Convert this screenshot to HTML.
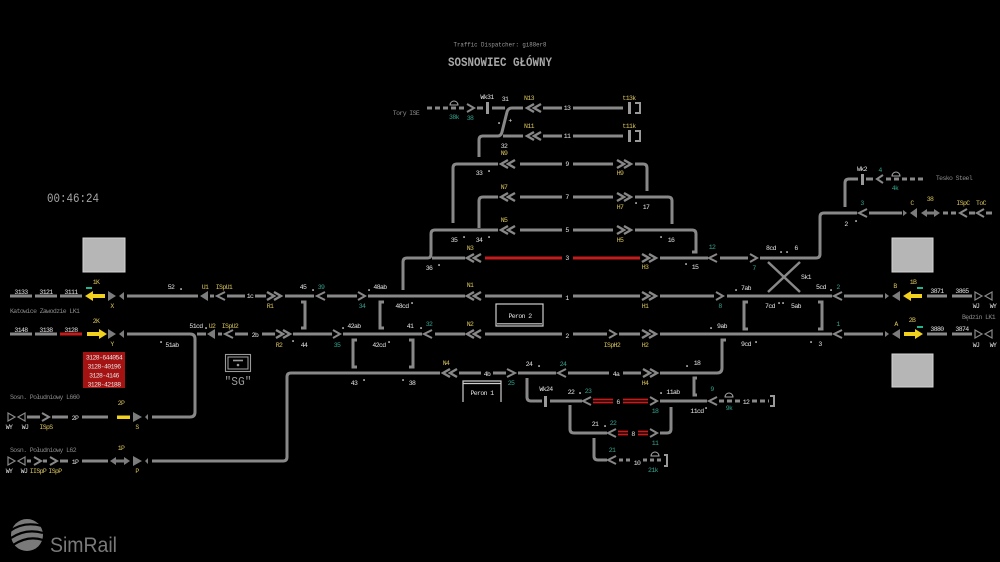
<!DOCTYPE html>
<html><head><meta charset="utf-8">
<style>
html,body{margin:0;padding:0;background:#000;}
svg{display:block}
text{font-family:"Liberation Mono",monospace;font-size:6.5px;letter-spacing:-0.6px;text-anchor:middle}
.w{fill:#e4e4e4}.y{fill:#d9c45c}.t{fill:#34a38f}.g{fill:#8a8a8a}
.l{text-anchor:start}.r{text-anchor:end}
.tr{stroke:#888;stroke-width:3;fill:none}
.ch{stroke:#888;stroke-width:2;fill:none}
.dc{stroke:#888;stroke-width:2.4;fill:none}
.da{stroke:#888;stroke-width:3;fill:none;stroke-dasharray:5 3}
.sg{fill:#7c7c7c}
.dot{fill:#e4e4e4}
</style></head><body>
<svg width="1000" height="562" viewBox="0 0 1000 562" xmlns="http://www.w3.org/2000/svg">
<rect width="1000" height="562" fill="#000"/>

<!-- Titles -->
<text x="500" y="46.5" fill="#9a9a9a" style="font-size:6.3px;letter-spacing:0" textLength="93" lengthAdjust="spacingAndGlyphs">Traffic Dispatcher: gi88er8</text>
<text x="500" y="66" fill="#a6a6a6" style="font-size:12.5px;font-weight:bold;letter-spacing:0" textLength="104" lengthAdjust="spacingAndGlyphs">SOSNOWIEC GŁÓWNY</text>
<text x="73" y="202" fill="#a6a6a6" style="font-size:13px;letter-spacing:0" textLength="52" lengthAdjust="spacingAndGlyphs">00:46:24</text>

<!-- Gray squares -->
<rect x="83" y="238" width="42" height="34" fill="#b6b6b6" stroke="#d4d4d4" stroke-width="1"/>
<rect x="892" y="238" width="41" height="34" fill="#b6b6b6" stroke="#d4d4d4" stroke-width="1"/>
<rect x="892" y="354" width="41" height="33" fill="#b6b6b6" stroke="#d4d4d4" stroke-width="1"/>

<!-- Red info box -->
<rect x="83" y="352" width="42" height="36" fill="#a51212"/>
<text x="104" y="359.5" class="w">3128-644054</text>
<text x="104" y="368.5" class="w">3128-40196</text>
<text x="104" y="377.5" class="w">3128-4146</text>
<text x="104" y="386.5" class="w">3128-42188</text>

<!-- TRACKS -->
<g class="tr">
<path d="M10 296H32M35 296H57M60 296H82"/>
<path d="M127 296H198M210 296H214M227 296H245M255 296H266M285 296H314M327 296H357M368 296H465"/>
<path d="M10 334H32M35 334H57"/>
<path d="M127 334H190Q195 334 195 339V412Q195 417 190 417H152"/>
<path d="M197 334H206M218 334H222M235 334H248M262 334H275M293 334H332M343 334H422M435 334H465"/>
<path d="M301 302H305V328H301"/>
<path d="M384 302H380V328H384"/>
<path d="M357 340H353V367H357"/>
<path d="M409 340H413V367H409"/>
<path d="M403 290V262Q403 258 407 258H428Q431 258 431 254V234Q431 230 435 230H498"/>
<path d="M432 258H465"/>
<path d="M520 230H562M573 230H613"/>
<path d="M635 230H692Q696 230 696 234V252H692"/>
<path d="M453 223V168Q453 164 457 164H498M520 164H562M573 164H613M635 164H643Q647 164 647 168V191"/>
<path d="M479 228V201Q479 197 483 197H498M520 197H562M573 197H613M635 197H668Q672 197 672 201V224"/>
<path d="M479 157V140Q479 136 483 136H498Q501 136 502 132L507 112Q508 108 512 108H523"/>
<path d="M492 108H505"/>
<path d="M503 136H523M543 136H562M573 136H623"/>
<path d="M543 108H562M573 108H623"/>
<path d="M660 258H708M720 258H748M760 258H816Q820 258 820 254V217Q820 213 824 213H857M869 213H902"/>
<path d="M485 296H562M573 296H640M660 296H714M727 296H832M844 296H883"/>
<path d="M485 334H562M573 334H607M619 334H640M660 334H832M844 334H883"/>
<path d="M927 296H947M952 296H972M927 334H947M952 334H972"/>
<path d="M748 302H744V329H748"/>
<path d="M818 302H822V329H818"/>
<path d="M152 461H283Q287 461 287 457V377Q287 373 291 373H440"/>
<path d="M459 373H481M493 373H506M518 373H556M568 373H609M623 373H641"/>
<path d="M660 373H717Q722 373 722 368V340H726"/>
<path d="M527 378V397Q527 401 531 401H542"/>
<path d="M550 401H582M660 401H707"/>
<path d="M697 378H694V395H697"/>
<path d="M570 405V429Q570 433 574 433H607"/>
<path d="M660 433H667Q671 433 671 429V407"/>
<path d="M594 438V456Q594 460 598 460H607"/>
<path d="M27 417H40M52 417H68M82 417H108"/>
<path d="M27 461H31M43 461H47M60 461H68M82 461H108"/>
<path d="M845 207V183Q845 179 849 179H858"/>
<path d="M866 179H873M969 213H975M986 213H992"/>
<path d="M477 108H483"/>
</g>

<g class="da">
<path d="M427 108H466"/>
<path d="M886 179H925"/>
<path d="M943 213H958"/>
<path d="M719 401H740M752 401H769"/>
<path d="M619 460H630M643 460H662" style="stroke-dasharray:4 3"/>
</g>

<path d="M485 258H562M573 258H640M60 334H82" stroke="#c41c1c" stroke-width="3" fill="none"/>
<path d="M593 399.5H613M593 402.5H613M623 399.5H648M623 402.5H648M618 431.5H628M618 434.5H628M638 431.5H648M638 434.5H648" stroke="#c41c1c" stroke-width="1.8" fill="none"/>

<path d="M768 262L800 292M800 262L768 292" stroke="#888" stroke-width="2.5" fill="none"/>

<g class="dc">
<path d="M474 292L467 296L474 300M481 292L474 296L481 300"/>
<path d="M474 330L467 334L474 338M481 330L474 334L481 338"/>
<path d="M474 254L467 258L474 262M481 254L474 258L481 262"/>
<path d="M508 226L501 230L508 234M515 226L508 230L515 234"/>
<path d="M508 193L501 197L508 201M515 193L508 197L515 201"/>
<path d="M508 160L501 164L508 168M515 160L508 164L515 168"/>
<path d="M534 132L527 136L534 140M541 132L534 136L541 140"/>
<path d="M534 104L527 108L534 112M541 104L534 108L541 112"/>
<path d="M450 369L443 373L450 377M457 369L450 373L457 377"/>
<path d="M267 292L274 296L267 300M274 292L281 296L274 300"/>
<path d="M276 330L283 334L276 338M283 330L290 334L283 338"/>
<path d="M617 160L624 164L617 168M624 160L631 164L624 168"/>
<path d="M617 193L624 197L617 201M624 193L631 197L624 201"/>
<path d="M617 226L624 230L617 234M624 226L631 230L624 234"/>
<path d="M642 254L649 258L642 262M649 254L656 258L649 262"/>
<path d="M642 292L649 296L642 300M649 292L656 296L649 300"/>
<path d="M642 330L649 334L642 338M649 330L656 334L649 338"/>
<path d="M643 369L650 373L643 377M650 369L657 373L650 377"/>
</g>

<g class="ch">
<path d="M325 292L317 296L325 300"/>
<path d="M432 330L424 334L432 338"/>
<path d="M225 292L217 296L225 300"/>
<path d="M233 330L225 334L233 338"/>
<path d="M842 292L834 296L842 300"/>
<path d="M842 330L834 334L842 338"/>
<path d="M717 254L709 258L717 262"/>
<path d="M867 209L859 213L867 217"/>
<path d="M591 397L583 401L591 405"/>
<path d="M616 429L608 433L616 437"/>
<path d="M616 456L608 460L616 464"/>
<path d="M566 369L558 373L566 377"/>
<path d="M717 397L709 401L717 405"/>
<path d="M883 175L877 179L883 183"/>
<path d="M967 209L960 213L967 217"/>
<path d="M984 209L977 213L984 217"/>
<path d="M358 292L365 296L358 300"/>
<path d="M333 330L340 334L333 338"/>
<path d="M467 104L474 108L467 112"/>
<path d="M716 292L723 296L716 300"/>
<path d="M750 254L757 258L750 262"/>
<path d="M609 330L616 334L609 338"/>
<path d="M507 369L515 373L507 377"/>
<path d="M650 397L657 401L650 405"/>
<path d="M650 429L657 433L650 437"/>
<path d="M42 413L49 417L42 421"/>
<path d="M34 457L41 461L34 465"/>
<path d="M50 457L57 461L50 465"/>
</g>

<g fill="none" stroke="#888" stroke-width="1.2">
<path d="M975 292L982 296L975 300Z M992 292L985 296L992 300Z"/>
<path d="M975 330L982 334L975 338Z M992 330L985 334L992 338Z"/>
<path d="M8 413L15 417L8 421Z M25 413L18 417L25 421Z"/>
<path d="M8 457L15 461L8 465Z M25 457L18 461L25 465Z"/>
</g>

<g class="sg">
<path d="M108 291L116 296L108 301Z M124 292L119 296L124 300Z"/>
<path d="M108 329L116 334L108 339Z M124 330L119 334L124 338Z"/>
<path d="M208 291L200 296L208 301Z"/>
<path d="M215 329L207 334L215 339Z"/>
<path d="M133 412L142 417L133 422Z M148 414L145 417L148 420Z"/>
<path d="M133 456L142 461L133 466Z M148 458L145 461L148 464Z"/>
<path d="M885 293L889 296L885 299Z M900 291L892 296L900 301Z"/>
<path d="M885 331L889 334L885 337Z M900 329L892 334L900 339Z"/>
<path d="M903 210L907 213L903 216Z M917 208L910 213L917 218Z"/>
<path d="M110 461L116 457V459.5H124V457L130 461L124 465V462.5H116V465Z"/>
<path d="M921 213L927 209V211.5H934V209L940 213L934 217V214.5H927V217Z"/>
</g>

<g fill="#f2d01e">
<path d="M85 296L93 291V294H105V298H93V301Z"/>
<path d="M107 334L99 329V332H87V336H99V339Z"/>
<path d="M903 296L911 291V294H922V298H911V301Z"/>
<path d="M923 334L915 329V332H904V336H915V339Z"/>
<rect x="117" y="415.5" width="13" height="3.5"/>
</g>
<g fill="#1fb58f">
<rect x="86" y="287" width="6" height="2"/>
<rect x="917" y="287" width="6" height="2"/>
<rect x="917" y="326" width="6" height="2"/>
</g>

<g fill="#999">
<rect x="486" y="102" width="3" height="12"/>
<rect x="628" y="102" width="3" height="12"/>
<rect x="628" y="130" width="3" height="12"/>
<rect x="861" y="174" width="3" height="11"/>
<rect x="544" y="396" width="3" height="11"/>
</g>
<g fill="none" stroke="#999" stroke-width="2">
<path d="M635 103H640V113H635"/>
<path d="M635 131H640V141H635"/>
<path d="M770 396H774V406H770"/>
<path d="M664 455H667V466H664"/>
</g>
<g fill="none" stroke="#aaa" stroke-width="1">
<path d="M450 105A4 4 0 0 1 458 105Z"/>
<path d="M892 176A4 4 0 0 1 900 176Z"/>
<path d="M725 397A4 4 0 0 1 733 397Z"/>
<path d="M651 456A4 4 0 0 1 659 456Z"/>
</g>

<g fill="none" stroke="#cfcfcf" stroke-width="1.2">
<rect x="496" y="304" width="47" height="22"/>
<path d="M497 323.8H542"/>
<path d="M463 402V381H501V402M463 383.5H501"/>
</g>
<text x="520" y="318" class="w">Peron 2</text>
<text x="482" y="395" class="w">Peron 1</text>

<g fill="none" stroke="#9a9a9a" stroke-width="1.1">
<rect x="225.5" y="354.5" width="25" height="17"/>
<rect x="228" y="357" width="20" height="12"/>
<path d="M233 360.5H243" stroke-width="1.6"/>
</g>
<circle cx="238" cy="365" r="1.3" fill="#9a9a9a"/>
<text x="238" y="385" fill="#9a9a9a" style="font-size:12px;letter-spacing:0" textLength="27" lengthAdjust="spacingAndGlyphs">"SG"</text>

<g class="dot">
<rect x="180.3" y="288.3" width="1.5" height="1.5"/><rect x="312.3" y="289.3" width="1.5" height="1.5"/>
<rect x="368.3" y="289.3" width="1.5" height="1.5"/><rect x="411.3" y="302.3" width="1.5" height="1.5"/>
<rect x="205.3" y="327.3" width="1.5" height="1.5"/><rect x="160.3" y="341.3" width="1.5" height="1.5"/>
<rect x="292.3" y="340.3" width="1.5" height="1.5"/><rect x="342.3" y="327.3" width="1.5" height="1.5"/>
<rect x="388.3" y="341.3" width="1.5" height="1.5"/><rect x="420.3" y="327.3" width="1.5" height="1.5"/>
<rect x="438.3" y="264.3" width="1.5" height="1.5"/><rect x="463.3" y="236.3" width="1.5" height="1.5"/>
<rect x="488.3" y="236.3" width="1.5" height="1.5"/><rect x="488.3" y="170.3" width="1.5" height="1.5"/>
<rect x="498.3" y="122.3" width="1.5" height="1.5"/><rect x="660.3" y="236.3" width="1.5" height="1.5"/>
<rect x="635.3" y="202.3" width="1.5" height="1.5"/><rect x="685.3" y="263.3" width="1.5" height="1.5"/>
<rect x="780.3" y="251.3" width="1.5" height="1.5"/><rect x="786.3" y="251.3" width="1.5" height="1.5"/>
<rect x="735.3" y="289.3" width="1.5" height="1.5"/><rect x="830.3" y="289.3" width="1.5" height="1.5"/>
<rect x="778.3" y="302.3" width="1.5" height="1.5"/><rect x="782.3" y="302.3" width="1.5" height="1.5"/>
<rect x="710.3" y="327.3" width="1.5" height="1.5"/><rect x="755.3" y="341.3" width="1.5" height="1.5"/>
<rect x="810.3" y="341.3" width="1.5" height="1.5"/><rect x="855.3" y="220.3" width="1.5" height="1.5"/>
<rect x="363.3" y="379.3" width="1.5" height="1.5"/><rect x="402.3" y="379.3" width="1.5" height="1.5"/>
<rect x="538.3" y="365.3" width="1.5" height="1.5"/><rect x="686.3" y="365.3" width="1.5" height="1.5"/>
<rect x="579.3" y="392.3" width="1.5" height="1.5"/><rect x="660.3" y="392.3" width="1.5" height="1.5"/>
<rect x="705.3" y="407.3" width="1.5" height="1.5"/><rect x="604.3" y="425.3" width="1.5" height="1.5"/>
</g>
<text x="510" y="122.5" class="w">+</text>

<g class="w">
<text x="21" y="294">3133</text><text x="46" y="294">3121</text><text x="71" y="294">3111</text>
<text x="21" y="332">3148</text><text x="46" y="332">3138</text><text x="71" y="332">3128</text>
<text x="171" y="289">52</text>
<text x="250" y="298">1c</text>
<text x="303" y="289">45</text>
<text x="380" y="289">48ab</text>
<text x="402" y="308">48cd</text>
<text x="196" y="328">51cd</text>
<text x="255" y="337">2b</text>
<text x="304" y="347">44</text>
<text x="354" y="328">42ab</text>
<text x="379" y="347">42cd</text>
<text x="410" y="328">41</text>
<text x="172" y="347">51ab</text>
<text x="429" y="270">36</text>
<text x="454" y="242">35</text>
<text x="479" y="242">34</text>
<text x="479" y="175">33</text>
<text x="504" y="148">32</text>
<text x="505" y="101">31</text>
<text x="487" y="99">Wk31</text>
<text x="567" y="110">13</text><text x="567" y="138">11</text><text x="567" y="166">9</text>
<text x="567" y="199">7</text><text x="567" y="232">5</text><text x="567" y="260">3</text>
<text x="567" y="300">1</text><text x="567" y="338">2</text>
<text x="646" y="209">17</text><text x="671" y="242">16</text><text x="695" y="269">15</text>
<text x="771" y="250">8cd</text><text x="796" y="250">6</text>
<text x="746" y="290">7ab</text><text x="821" y="289">5cd</text>
<text x="770" y="308">7cd</text><text x="796" y="308">5ab</text>
<text x="722" y="328">9ab</text><text x="746" y="346">9cd</text><text x="820" y="346">3</text>
<text x="806" y="279">Sk1</text>
<text x="846" y="226">2</text>
<text x="862" y="171">Wk2</text>
<text x="937" y="293">3871</text><text x="962" y="293">3865</text>
<text x="937" y="331">3880</text><text x="962" y="331">3874</text>
<text x="976" y="308">WJ</text><text x="993" y="308">WY</text>
<text x="976" y="347">WJ</text><text x="993" y="347">WY</text>
<text x="354" y="385">43</text><text x="412" y="385">38</text>
<text x="487" y="376">4b</text><text x="529" y="366">24</text><text x="616" y="376">4a</text><text x="697" y="365">18</text>
<text x="546" y="391">Wk24</text><text x="571" y="394">22</text><text x="618" y="404">6</text>
<text x="673" y="394">11ab</text><text x="697" y="413">11cd</text><text x="746" y="404">12</text>
<text x="595" y="426">21</text><text x="633" y="436">8</text><text x="637" y="465">10</text>
<text x="75" y="420">2P</text><text x="75" y="464">1P</text>
<text x="9" y="429">WY</text><text x="25" y="429">WJ</text>
<text x="9" y="473">WY</text><text x="24" y="473">WJ</text>
</g>

<g class="y">
<text x="96" y="284">1K</text><text x="112" y="308">X</text>
<text x="96" y="323">2K</text><text x="112" y="346">Y</text>
<text x="205" y="289">U1</text><text x="224" y="289">ISpU1</text>
<text x="212" y="328">U2</text><text x="230" y="328">ISpU2</text>
<text x="270" y="308">R1</text><text x="279" y="347">R2</text>
<text x="470" y="287">N1</text><text x="470" y="326">N2</text><text x="470" y="250">N3</text>
<text x="504" y="222">N5</text><text x="504" y="189">N7</text><text x="504" y="155">N9</text>
<text x="529" y="128">N11</text><text x="529" y="100">N13</text><text x="446" y="365">N4</text>
<text x="629" y="100">t13k</text><text x="629" y="128">t11k</text>
<text x="620" y="175">H9</text><text x="620" y="209">H7</text><text x="620" y="242">H5</text>
<text x="645" y="269">H3</text><text x="645" y="308">H1</text><text x="645" y="347">H2</text>
<text x="612" y="347">ISpH2</text><text x="645" y="385">H4</text>
<text x="912" y="205">C</text><text x="930" y="201">38</text>
<text x="963" y="205">ISpC</text><text x="981" y="205">ToC</text>
<text x="895" y="288">B</text><text x="913" y="284">1B</text>
<text x="896" y="326">A</text><text x="912" y="322">2B</text>
<text x="121" y="405">2P</text><text x="137" y="429">S</text><text x="46" y="429">ISpS</text>
<text x="121" y="450">1P</text><text x="137" y="473">P</text>
<text x="38" y="473">IISpP</text><text x="55" y="473">ISpP</text>
</g>

<g class="t">
<text x="321" y="289">39</text><text x="362" y="308">34</text>
<text x="337" y="347">35</text><text x="429" y="326">32</text>
<text x="454" y="119">38k</text><text x="470" y="120">38</text>
<text x="712" y="249">12</text><text x="754" y="270">7</text><text x="720" y="308">8</text>
<text x="838" y="289">2</text><text x="838" y="326">1</text><text x="862" y="205">3</text>
<text x="880" y="172">4</text><text x="895" y="190">4k</text>
<text x="511" y="385">25</text><text x="563" y="366">24</text><text x="588" y="393">23</text>
<text x="655" y="413">18</text><text x="712" y="391">9</text><text x="729" y="410">9k</text>
<text x="613" y="425">22</text><text x="655" y="445">11</text>
<text x="612" y="452">21</text><text x="653" y="472">21k</text>
</g>

<g class="g">
<text x="406" y="115">Tory ISE</text>
<text x="954" y="180">Tesko Steel</text>
<text x="10" y="313" class="l">Katowice Zawodzie LK1</text>
<text x="995" y="319" class="r">Będzin LK1</text>
<text x="10" y="399" class="l">Sosn. Południowy L660</text>
<text x="10" y="452" class="l">Sosn. Południowy L62</text>
</g>

<circle cx="27" cy="535" r="16" fill="#7a7a7a"/>
<g fill="none" stroke="#000" stroke-width="2.2">
<path d="M10 531Q24 521 42 526"/>
<path d="M11 538Q26 528 43 533"/>
<path d="M13 545Q28 535 43 540"/>
</g>
<text x="50" y="552" fill="#7a7a7a" class="l" style="font-family:'Liberation Sans',sans-serif;font-size:21px;letter-spacing:0" textLength="67" lengthAdjust="spacingAndGlyphs">SimRail</text>
</svg>
</body></html>
